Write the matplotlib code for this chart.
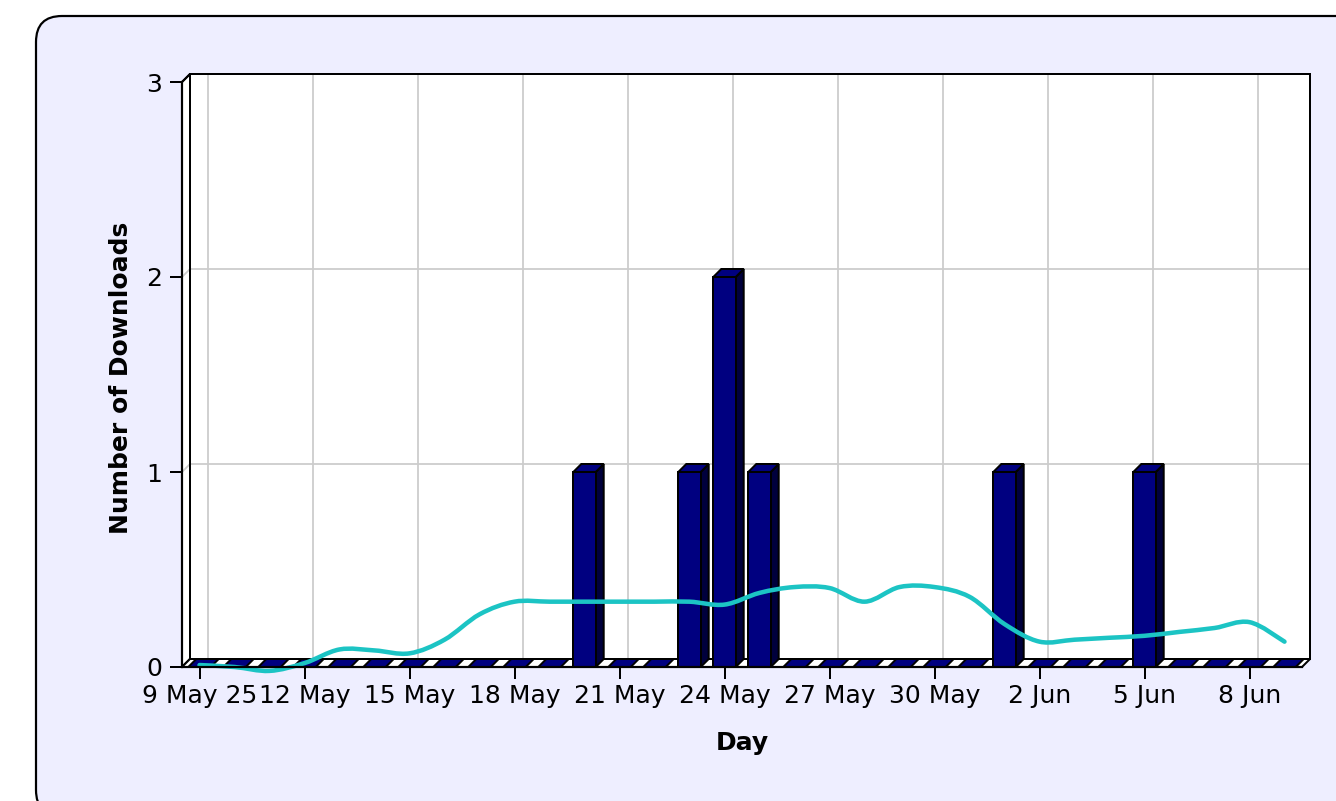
import numpy as np
import matplotlib
matplotlib.use("Agg")
import matplotlib.pyplot as plt
from matplotlib.patches import Polygon, FancyBboxPatch, PathPatch
from matplotlib.path import Path

# ---------------- data ----------------
days = list(range(32))  # 9 May 2025 .. 9 Jun 2025
tick_days = [0, 3, 6, 9, 12, 15, 18, 21, 24, 27, 30]
tick_labels = ['9 May 25', '12 May', '15 May', '18 May', '21 May', '24 May',
               '27 May', '30 May', '2 Jun', '5 Jun', '8 Jun']
downloads = [0, 0, 0, 0, 0, 0, 0, 0, 0, 0, 0, 1, 0, 0, 1, 2, 1, 0, 0, 0, 0, 0,
             0, 1, 0, 0, 0, 1, 0, 0, 0, 0]
trend = [0.01, 0.0, -0.02, 0.02, 0.09, 0.085, 0.07, 0.14, 0.27, 0.335, 0.335,
         0.335, 0.335, 0.335, 0.335, 0.32, 0.38, 0.41, 0.405, 0.335, 0.41, 0.41,
         0.36, 0.22, 0.13, 0.14, 0.15, 0.16, 0.18, 0.2, 0.23, 0.13]
y_ticks = [0, 1, 2, 3]

# ---------------- style ----------------
W, H = 1336, 801
PANEL = '#EEEEFF'
NAVY = '#000080'
NAVY_SIDE = '#00003C'
GRID = '#CCCCCC'
LINE = '#1CC4C4'
px = 72 / 100.0  # points per pixel

fig = plt.figure(figsize=(W / 100, H / 100), dpi=100)
fig.patch.set_facecolor('white')

# background panel (pixel coordinates)
bg = fig.add_axes([0, 0, 1, 1], zorder=-10)
bg.set_xlim(0, W)
bg.set_ylim(H, 0)
bg.axis('off')
bg.add_patch(FancyBboxPatch((36, 16), 1400, 800,
                            boxstyle='round,pad=0,rounding_size=26',
                            facecolor=PANEL, edgecolor='black', lw=2.2 * px))

# main axes = front plane
L, R, T, B = 182, 1302, 82, 667
ax = fig.add_axes([L / W, 1 - B / H, (R - L) / W, (B - T) / H])
x0, x1 = -0.5, 31.5
ax.set_xlim(x0, x1)
ax.set_ylim(0, 3)
ax.patch.set_visible(False)
for s in ax.spines.values():
    s.set_visible(False)

sx = (R - L) / (x1 - x0)
sy = (B - T) / 3.0
dx = 8 / sx
dy = 8 / sy

def poly(pts, fc, ec='black', lw=2.0, z=1):
    p = Polygon(pts, closed=True, facecolor=fc, edgecolor=ec, lw=lw * px,
                zorder=z, clip_on=False, joinstyle='miter')
    ax.add_patch(p)

# back wall
poly([(x0 + dx, dy), (x1 + dx, dy), (x1 + dx, 3 + dy), (x0 + dx, 3 + dy)], 'white', z=1)
# left wall
poly([(x0, 0), (x0, 3), (x0 + dx, 3 + dy), (x0 + dx, dy)], 'white', z=1.2)

# grid lines
for yv in y_ticks[1:-1]:
    ax.plot([x0, x0 + dx, x1 + dx], [yv, yv + dy, yv + dy], color=GRID,
            lw=1.8 * px, zorder=1.5, clip_on=False)
for d in tick_days:
    ax.plot([d + dx, d + dx], [dy, 3 + dy], color=GRID, lw=1.8 * px,
            zorder=1.5, clip_on=False)
# redraw wall borders over grid
poly([(x0 + dx, dy), (x1 + dx, dy), (x1 + dx, 3 + dy), (x0 + dx, 3 + dy)], 'none', z=1.6)
poly([(x0, 0), (x0, 3), (x0 + dx, 3 + dy), (x0 + dx, dy)], 'none', z=1.6)

# floor
poly([(x0, 0), (x1, 0), (x1 + dx, dy), (x0 + dx, dy)], 'white', z=2)

# 3D bars
bw = 0.64
for i, v in zip(days, downloads):
    a, b = i - bw / 2, i + bw / 2
    if v > 0:
        poly([(b, 0), (b + dx, dy), (b + dx, v + dy), (b, v)], NAVY_SIDE, lw=2.0, z=3 + i * 0.01)
        poly([(a, 0), (b, 0), (b, v), (a, v)], NAVY, lw=2.0, z=3 + i * 0.01)
    poly([(a, v), (b, v), (b + dx, v + dy), (a + dx, v + dy)], NAVY, lw=2.0, z=3 + i * 0.01)

# smoothed trend line (Catmull-Rom through daily values)
P = np.column_stack([days, trend]).astype(float)
n = len(P)
verts = [tuple(P[0])]
codes = [Path.MOVETO]
for i in range(n - 1):
    p0 = P[i - 1] if i > 0 else P[i]
    p1, p2 = P[i], P[i + 1]
    p3 = P[i + 2] if i + 2 < n else P[i + 1]
    c1 = p1 + (p2 - p0) / 6.0
    c2 = p2 - (p3 - p1) / 6.0
    verts += [tuple(c1), tuple(c2), tuple(p2)]
    codes += [Path.CURVE4] * 3
ax.add_patch(PathPatch(Path(verts, codes), facecolor='none', edgecolor=LINE,
                       lw=4.5 * px, zorder=10, clip_on=False, capstyle='round'))

# front axis edges
ax.plot([x0, x0], [0, 3], color='black', lw=2.2 * px, zorder=11, clip_on=False)
ax.plot([x0, x1], [0, 0], color='black', lw=2.2 * px, zorder=11, clip_on=False)

# ticks
ax.set_xticks(tick_days)
ax.set_xticklabels(tick_labels)
ax.set_yticks(y_ticks)
ax.set_yticklabels([str(t) for t in y_ticks])
ax.tick_params(axis='both', direction='out', length=12 * px, width=2 * px,
               colors='black', labelsize=18)
ax.tick_params(axis='y', pad=8 * px)
ax.tick_params(axis='x', pad=5 * px)

fig.text(121 / W, 1 - 378 / H, 'Number of Downloads', rotation=90, ha='center',
         va='center', fontsize=18, fontweight='bold')
fig.text(742 / W, 1 - 743 / H, 'Day', ha='center', va='center', fontsize=18,
         fontweight='bold')

fig.savefig('out.png', dpi=100)
